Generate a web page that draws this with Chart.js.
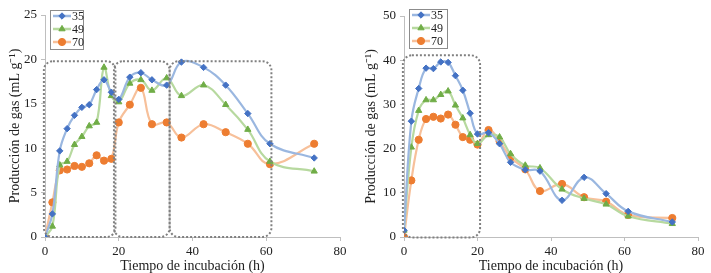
<!DOCTYPE html>
<html>
<head>
<meta charset="utf-8">
<script src="https://cdn.jsdelivr.net/npm/chart.js@4.4.1/dist/chart.umd.min.js"></script>
<style>
  body { margin: 0; background: #fff; width: 711px; height: 273px; position: relative; overflow: hidden; }
  #leftChart { position: absolute; left: 0; top: 0; }
  #rightChart { position: absolute; left: 360px; top: 0; }
</style>
</head>
<body>
<canvas id="leftChart" width="355" height="273"></canvas>
<canvas id="rightChart" width="351" height="273"></canvas>
<script>
// incubation times (h), shared by both panels
const hours = [0, 2, 4, 6, 8, 10, 12, 14, 16, 18, 20, 23, 26, 29, 33, 37, 43, 49, 55, 61, 73];
const seriesNames = ['35', '49', '70'];

// left panel, gas production (mL g-1)
const leftGas35 = [0, 2.6, 9.7, 12.2, 13.7, 14.6, 14.9, 16.6, 17.7, 16.3, 15.5, 18.0, 18.5, 17.7, 17.1, 19.7, 19.1, 17.1, 13.9, 10.5, 8.9];
const leftGas49 = [0, 1.2, 8.1, 8.5, 10.4, 11.3, 12.5, 12.9, 19.1, 15.9, 15.2, 17.3, 17.7, 16.5, 17.9, 15.9, 17.1, 14.9, 12.1, 8.5, 7.4];
const leftGas70 = [0, 3.9, 7.5, 7.6, 8.0, 7.9, 8.3, 9.2, 8.6, 8.8, 12.9, 14.9, 16.8, 12.7, 12.9, 11.2, 12.7, 11.8, 10.5, 8.2, 10.5];

// right panel
const rightGas35 = [1.5, 26.2, 33.6, 38.2, 38.1, 39.6, 39.5, 36.5, 33.2, 28.0, 23.3, 23.6, 21.1, 16.9, 15.2, 14.9, 8.3, 13.5, 9.8, 5.8, 3.4];
const rightGas49 = [1.5, 20.3, 28.6, 31.0, 31.0, 32.2, 33.0, 29.8, 26.9, 23.1, 21.1, 23.1, 22.6, 18.8, 16.2, 15.6, 10.8, 8.7, 7.4, 4.7, 3.0];
const rightGas70 = [0, 12.8, 22.0, 26.7, 27.2, 26.8, 27.7, 25.4, 22.6, 22.0, 20.9, 24.2, 21.7, 18.0, 15.3, 10.4, 12.0, 9.0, 8.0, 5.0, 4.3];

// dotted phase boxes in data units: [xFrom, xTo, yFrom, yTo]
const leftBoxes = [[-0.3, 19.1, 0, 19.8], [18.7, 33.8, 0, 19.8], [33.8, 61.4, 0, 19.8]];
const rightBoxes = [[-0.3, 20.7, -0.1, 41.1]];

const lineColors = ['#9ab7e0', '#b7d99f', '#f7c09a'];
const markColors = ['#4472c4', '#70ad47', '#ed7d31'];
const markStyles = ['rectRot', 'triangle', 'circle'];
const markRadius = [3.2, 3.6, 3.6];
const serif = 'Liberation Serif, Times New Roman, serif';

const boxPlugin = {
  id: 'phaseBoxes',
  afterDatasetsDraw(chart, args, opts) {
    const ctx = chart.ctx, xs = chart.scales.x, ys = chart.scales.y;
    ctx.save();
    ctx.strokeStyle = '#808080';
    ctx.lineWidth = 2;
    ctx.setLineDash([2, 2]);
    opts.boxes.forEach(b => {
      const x0 = xs.getPixelForValue(b[0]), x1 = xs.getPixelForValue(b[1]);
      const y0 = ys.getPixelForValue(b[3]), y1 = ys.getPixelForValue(b[2]);
      ctx.beginPath();
      ctx.roundRect(x0, y0, x1 - x0, y1 - y0, 9);
      ctx.stroke();
    });
    ctx.restore();
  }
};

const legendPlugin = {
  id: 'boxLegend',
  afterDraw(chart, args, opts) {
    const ctx = chart.ctx;
    const L = opts.left, T = opts.top;
    ctx.save();
    ctx.fillStyle = '#fff';
    ctx.strokeStyle = '#8c8c8c';
    ctx.lineWidth = 1;
    ctx.fillRect(L, T, opts.width, 39);
    ctx.strokeRect(L + 0.5, T + 0.5, opts.width, 39);
    chart.data.datasets.forEach((ds, i) => {
      const y = T + 6 + i * 13;
      ctx.strokeStyle = lineColors[i];
      ctx.lineWidth = 2.5;
      ctx.beginPath();
      ctx.moveTo(L + 3, y);
      ctx.lineTo(L + 21, y);
      ctx.stroke();
      ctx.fillStyle = markColors[i];
      ctx.strokeStyle = markColors[i];
      ctx.lineWidth = 1;
      Chart.helpers.drawPoint(ctx, { pointStyle: markStyles[i], radius: markRadius[i], rotation: 0, borderWidth: 1 }, L + 12, y);
      ctx.fillStyle = '#222';
      ctx.font = '12px ' + serif;
      ctx.textBaseline = 'middle';
      ctx.fillText(ds.label, L + 22, y + 1);
    });
    ctx.restore();
  }
};

function makeChart(id, values, yMax, yStep, boxes, cfg) {
  const datasets = values.map((vals, i) => ({
    label: seriesNames[i],
    data: hours.map((h, k) => ({ x: h, y: vals[k] })),
    borderColor: lineColors[i],
    backgroundColor: markColors[i],
    borderWidth: 2.2,
    pointStyle: markStyles[i],
    pointRadius: markRadius[i],
    pointBackgroundColor: markColors[i],
    pointBorderColor: markColors[i],
    pointBorderWidth: 1,
    tension: 0.4
  }));
  return new Chart(document.getElementById(id), {
    type: 'line',
    data: { datasets: datasets },
    options: {
      responsive: false,
      animation: false,
      layout: { padding: { top: cfg.top, right: cfg.right, left: 0, bottom: 0 } },
      plugins: {
        legend: { display: false },
        tooltip: { enabled: false },
        phaseBoxes: { boxes: boxes },
        boxLegend: cfg.legend
      },
      scales: {
        x: {
          type: 'linear', min: 0, max: 80,
          ticks: { stepSize: 20, color: '#222', font: { family: serif, size: 13 }, padding: 3 },
          grid: { drawOnChartArea: false, color: '#bfbfbf', tickLength: 4 },
          border: { color: '#bfbfbf' },
          title: { display: true, text: 'Tiempo de incubación (h)', color: '#222', font: { family: serif, size: 14, lineHeight: 1 }, padding: { top: 0, bottom: 0 } },
          afterFit: s => { s.height = 36; }
        },
        y: {
          min: 0, max: yMax,
          ticks: { stepSize: yStep, color: '#222', font: { family: serif, size: 13 }, padding: 4 },
          grid: { drawOnChartArea: false, color: '#bfbfbf', tickLength: 4 },
          border: { color: '#bfbfbf' },
          title: { display: true, text: 'Producción de gas (mL g⁻¹)', color: '#222', font: { family: serif, size: 14 }, padding: { top: cfg.titlePad, bottom: 0 } },
          afterFit: s => { s.width = cfg.yWidth; }
        }
      }
    },
    plugins: [boxPlugin, legendPlugin]
  });
}

makeChart('leftChart', [leftGas35, leftGas49, leftGas70], 25, 5, leftBoxes,
  { top: 15, right: 15, yWidth: 45, titlePad: 6.5, legend: { left: 50, top: 10, width: 33 } });
makeChart('rightChart', [rightGas35, rightGas49, rightGas70], 50, 10, rightBoxes,
  { top: 16, right: 13, yWidth: 44, titlePad: 3.3, legend: { left: 49, top: 9, width: 38 } });
</script>
</body>
</html>
